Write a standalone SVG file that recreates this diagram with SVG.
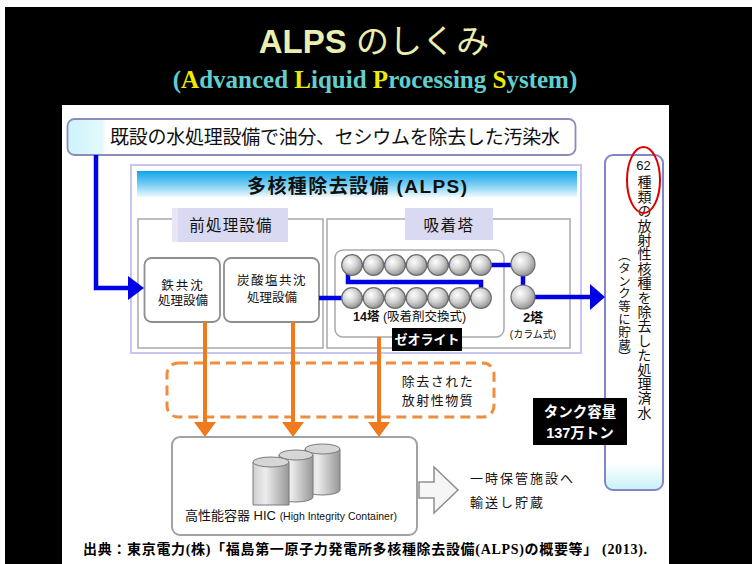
<svg xmlns="http://www.w3.org/2000/svg" width="753" height="564" viewBox="0 0 753 564">
  <defs>
    <style>
      .jp { font-family: "Liberation Sans", "Noto Sans CJK JP", sans-serif; fill: #111; }
      .serif { font-family: "Liberation Serif", "Noto Sans CJK JP", serif; }
      .grp { fill: none; stroke: #a9a9a9; stroke-width: 1.5; }
      .tab { fill: #d9d9f1; }
      .unit { fill: #fff; stroke: #8e8e8e; stroke-width: 1.8; }
      .flow { fill: none; stroke: #0000e6; stroke-width: 4.5; stroke-linejoin: miter; }
      .flowhead { fill: #0000e6; }
      .waste { stroke: #f07a1e; stroke-width: 4; }
      .wastehead { fill: #f07a1e; }
      .col { fill: url(#ball); stroke: #6e6e6e; stroke-width: 1.2; }
      .cyl { fill: url(#cylBody); stroke: #7a7a7a; stroke-width: 1; }
      .cyltop { fill: #d6d6d6; stroke: #7a7a7a; stroke-width: 1; }
      .vert { writing-mode: vertical-rl; }
      .tag { fill: #000; }
      .tagtxt { font-family: "Liberation Sans", "Noto Sans CJK JP", sans-serif; font-weight: bold; fill: #fff; text-anchor: middle; }
    </style>
    <linearGradient id="srcFill" x1="0" y1="0" x2="1" y2="0">
      <stop offset="0" stop-color="#cdf3fa"/>
      <stop offset="0.07" stop-color="#e4fafc"/>
      <stop offset="0.075" stop-color="#ffffff"/>
      <stop offset="1" stop-color="#ffffff"/>
    </linearGradient>
    <linearGradient id="hdr" x1="0" y1="0" x2="0" y2="1">
      <stop offset="0" stop-color="#0ea4ec"/>
      <stop offset="0.55" stop-color="#7fd0f4"/>
      <stop offset="1" stop-color="#eef9fe"/>
    </linearGradient>
    <linearGradient id="tankFill" x1="0" y1="0" x2="0" y2="1">
      <stop offset="0" stop-color="#ffffff"/>
      <stop offset="0.92" stop-color="#ffffff"/>
      <stop offset="1" stop-color="#c6f2f8"/>
    </linearGradient>
    <radialGradient id="ball" cx="0.38" cy="0.35" r="0.7">
      <stop offset="0" stop-color="#ffffff"/>
      <stop offset="0.5" stop-color="#d2d2d2"/>
      <stop offset="1" stop-color="#8c8c8c"/>
    </radialGradient>
    <linearGradient id="cylBody" x1="0" y1="0" x2="1" y2="0">
      <stop offset="0" stop-color="#cfcfcf"/>
      <stop offset="0.35" stop-color="#ededed"/>
      <stop offset="1" stop-color="#979797"/>
    </linearGradient>
  </defs>

  <!-- slide background -->
  <rect x="0" y="0" width="753" height="564" fill="#fff"/>
  <rect x="5" y="7" width="747" height="557" fill="#000"/>
  <rect x="62" y="105" width="607" height="459" fill="#fff"/>

  <!-- slide title -->
  <g id="title">
    <text x="374" y="53" text-anchor="middle" font-size="33" fill="#eaefae" font-family="Liberation Sans, Noto Sans CJK JP, sans-serif"><tspan font-weight="bold">ALPS</tspan> のしくみ</text>
    <text x="375" y="88" text-anchor="middle" font-size="25" font-weight="bold" class="serif" fill="#62cfcf">(<tspan fill="#eeea00">A</tspan>dvanced <tspan fill="#eeea00">L</tspan>iquid <tspan fill="#eeea00">P</tspan>rocessing <tspan fill="#eeea00">S</tspan>ystem)</text>
  </g>

  <!-- incoming contaminated water -->
  <g id="source">
    <rect x="67.5" y="119" width="508" height="36" rx="7" fill="url(#srcFill)" stroke="#8c8cbc" stroke-width="1.8"/>
    <text x="110" y="144" class="jp" font-size="19" textLength="450" lengthAdjust="spacing">既設の水処理設備で油分、セシウムを除去した汚染水</text>
  </g>

  <!-- ALPS enclosure -->
  <g id="alps">
    <rect x="131" y="165" width="450" height="188" fill="#fff" stroke="#c6c6ee" stroke-width="2"/>
    <rect x="137" y="171" width="440" height="26" fill="url(#hdr)"/>
    <text x="357" y="193" class="jp" font-size="19" font-weight="bold" text-anchor="middle" textLength="220" lengthAdjust="spacing">多核種除去設備 (ALPS)</text>
  </g>

  <!-- pretreatment section -->
  <g id="pretreatment">
    <rect x="138" y="219" width="185" height="129" class="grp"/>
    <rect x="172" y="208" width="116" height="34" class="tab"/>
    <rect x="172" y="208" width="6" height="34" fill="#e6e6f7"/>
    <text x="231" y="231" class="jp" font-size="15.5" letter-spacing="1.2" text-anchor="middle">前処理設備</text>
  </g>

  <g id="iron-coprecipitation">
    <rect x="144.5" y="258" width="75.5" height="64" rx="7" class="unit"/>
    <text x="183" y="290" class="jp" font-size="12.5" letter-spacing="2" text-anchor="middle">鉄共沈</text>
    <text x="183" y="305" class="jp" font-size="12.5" text-anchor="middle">処理設備</text>
  </g>

  <g id="carbonate-coprecipitation">
    <rect x="224" y="258" width="95" height="64" rx="7" class="unit"/>
    <text x="272" y="285" class="jp" font-size="12.5" letter-spacing="1.5" text-anchor="middle">炭酸塩共沈</text>
    <text x="272" y="302" class="jp" font-size="12.5" text-anchor="middle">処理設備</text>
  </g>

  <!-- adsorption section -->
  <g id="adsorption">
    <rect x="327" y="219" width="243" height="129" class="grp"/>
    <rect x="405" y="208" width="88" height="32" class="tab"/>
    <text x="449" y="231" class="jp" font-size="15.5" letter-spacing="1.5" text-anchor="middle">吸着塔</text>
  </g>

  <g id="towers-14">
    <rect x="335" y="250" width="169" height="87" rx="8" class="grp" fill="#fff"/>
    <text x="353" y="321" class="jp" font-size="12.5"><tspan font-weight="bold">14塔</tspan> (吸着剤交換式)</text>
    <rect x="392" y="328" width="70" height="23" class="tag"/>
    <text x="427" y="344" class="tagtxt" font-size="13">ゼオライト</text>
  </g>

  <g id="towers-2">
    <text x="533" y="322" class="jp" font-size="13" font-weight="bold" text-anchor="middle">2塔</text>
    <text x="533" y="338" class="jp" font-size="10" text-anchor="middle">(カラム式)</text>
  </g>

  <!-- treated water storage -->
  <g id="treated-water">
    <rect x="605" y="155" width="58" height="335" rx="8" fill="url(#tankFill)" stroke="#8484c8" stroke-width="2"/>
    <text x="643.5" y="170" class="jp" font-size="13" text-anchor="middle">62</text>
    <text x="643.5" y="175" class="jp vert" font-size="14" letter-spacing="0.4">種類の放射性核種を除去した処理済水</text>
    <text x="623" y="249" class="jp vert" font-size="12.5" letter-spacing="0.3">（タンク等に貯蔵）</text>
    <ellipse cx="643.5" cy="180" rx="16.5" ry="33" fill="none" stroke="#e00000" stroke-width="2"/>
  </g>

  <g id="tank-capacity">
    <rect x="533" y="398" width="94" height="47" class="tag"/>
    <text x="580" y="417" class="tagtxt" font-size="14.5">タンク容量</text>
    <text x="580" y="438" class="tagtxt" font-size="14.5">137万トン</text>
  </g>

  <!-- removed radioactive material -->
  <g id="removed-material">
    <rect x="167" y="363" width="327" height="54" rx="11" fill="none" stroke="#ef8c3e" stroke-width="3" stroke-dasharray="10 6"/>
    <text x="438" y="386" class="jp" font-size="13" letter-spacing="1.5" text-anchor="middle">除去された</text>
    <text x="438" y="405" class="jp" font-size="13" letter-spacing="1.5" text-anchor="middle">放射性物質</text>
  </g>

  <!-- high integrity container -->
  <g id="hic">
    <rect x="172" y="437" width="245" height="98" rx="8" fill="#fff" stroke="#a2a2a2" stroke-width="2"/>
    <path d="M305,449 V490 A17.5,5 0 0 0 340,490 V449 Z" class="cyl"/>
    <ellipse cx="322.5" cy="449" rx="17.5" ry="5" class="cyltop"/>
    <path d="M279,455 V497 A17,5 0 0 0 313,497 V455 Z" class="cyl"/>
    <ellipse cx="296" cy="455" rx="17" ry="5" class="cyltop"/>
    <path d="M253,462 V505 H289 V462 Z" class="cyl"/>
    <ellipse cx="271" cy="462" rx="18" ry="5" class="cyltop"/>
    <text x="185" y="520" class="jp" font-size="13">高性能容器 HIC <tspan font-size="10.5">(High Integrity Container)</tspan></text>
  </g>

  <g id="interim-storage">
    <polygon points="419,482 434,482 434,467 458,490 434,513 434,498 419,498" fill="#f6f6f6" stroke="#8f8f8f" stroke-width="1.5"/>
    <text x="470" y="483" class="jp" font-size="13" letter-spacing="2">一時保管施設へ</text>
    <text x="470" y="507" class="jp" font-size="13" letter-spacing="2">輸送し貯蔵</text>
  </g>

  <!-- connectors -->
  <g id="connectors">
    <!-- water flow -->
    <path class="flow" d="M96,155 V288 H130"/>
    <polygon class="flowhead" points="128,276 144,288 128,300"/>
    <path class="flow" d="M319,298 H481 V282 H348 V265 H523 V297 H591"/>
    <polygon class="flowhead" points="590,284 605,297 590,310"/>
    <!-- removed material to the container -->
    <line class="waste" x1="205" y1="322" x2="205" y2="424"/>
    <polygon class="wastehead" points="194,422 216,422 205,437"/>
    <line class="waste" x1="293" y1="322" x2="293" y2="424"/>
    <polygon class="wastehead" points="282,422 304,422 293,437"/>
    <line class="waste" x1="379" y1="337" x2="379" y2="424"/>
    <polygon class="wastehead" points="368,422 390,422 379,437"/>
  </g>

  <!-- adsorption columns drawn over the flow line -->
  <g id="columns">
    <circle cx="352" cy="265" r="10.3" class="col"/>
    <circle cx="373.5" cy="265" r="10.3" class="col"/>
    <circle cx="395" cy="265" r="10.3" class="col"/>
    <circle cx="416.5" cy="265" r="10.3" class="col"/>
    <circle cx="438" cy="265" r="10.3" class="col"/>
    <circle cx="459.5" cy="265" r="10.3" class="col"/>
    <circle cx="481" cy="265" r="10.3" class="col"/>
    <circle cx="352" cy="298" r="10.3" class="col"/>
    <circle cx="373.5" cy="298" r="10.3" class="col"/>
    <circle cx="395" cy="298" r="10.3" class="col"/>
    <circle cx="416.5" cy="298" r="10.3" class="col"/>
    <circle cx="438" cy="298" r="10.3" class="col"/>
    <circle cx="459.5" cy="298" r="10.3" class="col"/>
    <circle cx="481" cy="298" r="10.3" class="col"/>
    <circle cx="523" cy="264" r="12" class="col"/>
    <circle cx="523" cy="297" r="12" class="col"/>
  </g>

  <!-- source note -->
  <text x="83" y="554" class="serif" font-size="14" font-weight="bold" fill="#000" textLength="564" lengthAdjust="spacing">出典：東京電力(株)「福島第一原子力発電所多核種除去設備(ALPS)の概要等」 (2013).</text>
</svg>
